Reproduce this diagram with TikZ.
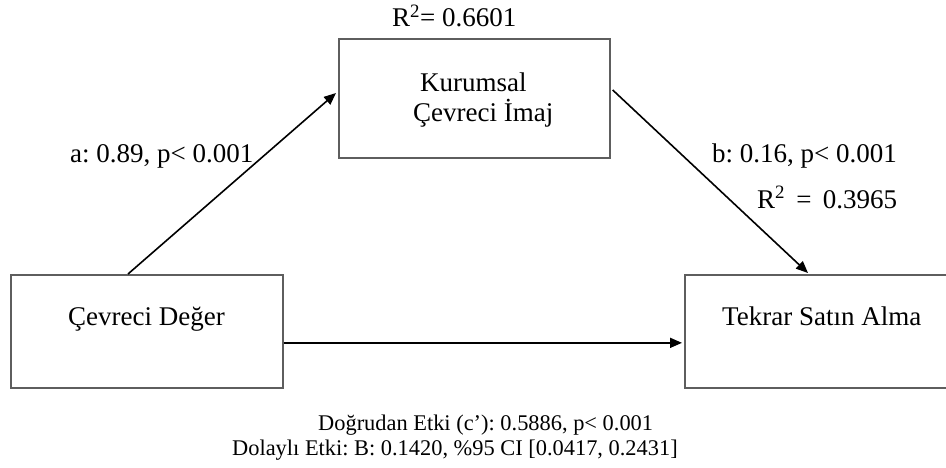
\documentclass[tikz,border=0pt]{standalone}
\usepackage{fontspec}
\setmainfont{Liberation Serif}
\usetikzlibrary{arrows.meta,calc}
\frenchspacing
\begin{document}
\begin{tikzpicture}[x=1pt,y=-1pt,
  boxnode/.style={draw=boxgray,line width=1.7pt,inner sep=0pt,anchor=north west},
  txt/.style={anchor=base west,inner sep=0pt,font=\fontsize{27}{32}\selectfont\frenchspacing},
  small/.style={anchor=base west,inner sep=0pt,font=\fontsize{22.4}{26}\selectfont\frenchspacing},
  arr/.style={line width=1.6pt,-{Triangle[length=12pt,width=10pt]}}]
\definecolor{boxgray}{HTML}{5E5E5E}
\useasboundingbox (0,0) rectangle (946,468);
\clip (0,0) rectangle (946,468);
% boxes
\node[boxnode,minimum width=271pt,minimum height=119pt] (kc) at (338,38) {};
\node[boxnode,minimum width=272pt,minimum height=113pt] (cd) at (10,274) {};
\node[boxnode,minimum width=276pt,minimum height=113pt] (ts) at (684,274) {};
% box texts
\node[txt] (t1) at (420,92) {Kurumsal};
\node[txt] (t2) at (413,122) {Çevreci İmaj};
\node[txt] (t3) at (68,325) {Çevreci Değer};
\node[txt] (t4) at (722,325) {Tekrar Satın Alma};
% labels
\node[txt] (r1) at (392,27) {R\textsuperscript{2}= 0.6601};
\node[txt] (la) at (70,163) {a: 0.89, p< 0.001};
\node[txt] (lb) at (712,163) {b: 0.16, p< 0.001};
\node[txt] (r2) at (757,208) {R\textsuperscript{2} \,=\, 0.3965};
\node[small] (n1) at (318,430) {Doğrudan Etki (c’): 0.5886, p< 0.001};
\node[small] (n2) at (232,455) {Dolaylı Etki: B: 0.1420, \%95 CI [0.0417, 0.2431]};
% arrows
\coordinate (aS) at ($(cd.north west)+(118,0)$);
\coordinate (aE) at ($(kc.north west)+(-2,55)$);
\coordinate (bS) at ($(kc.north east)+(2,52)$);
\coordinate (bE) at ($(ts.north west)+(124,-1)$);
\coordinate (cS) at ($(cd.east)+(0,11.5)$);
\coordinate (cE) at ($(ts.west)+(-2,11.5)$);
\draw[arr] (aS) -- (aE);
\draw[arr] (bS) -- (bE);
\draw[arr] (cS) -- (cE);
\end{tikzpicture}
\end{document}
